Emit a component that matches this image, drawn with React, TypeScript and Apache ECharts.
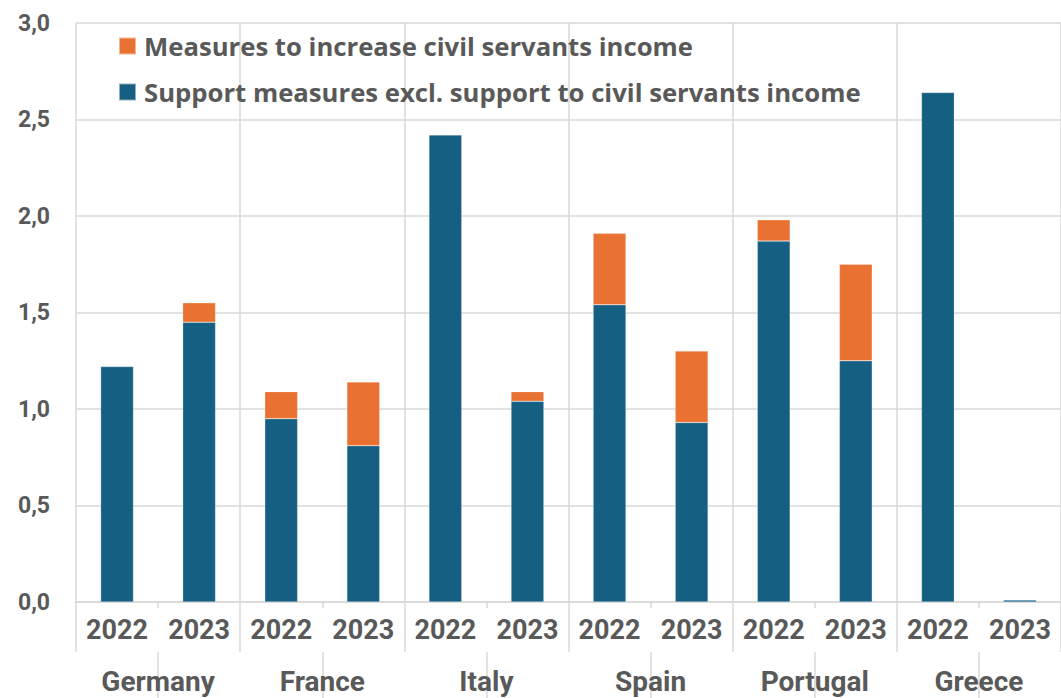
import React, { useEffect, useRef } from "react";
import * as echarts from "echarts";

const years = ["2022", "2023", "2022", "2023", "2022", "2023", "2022", "2023", "2022", "2023", "2022", "2023"];
const countries = ["Germany", "France", "Italy", "Spain", "Portugal", "Greece"];
const supportExcl = [1.22, 1.45, 0.95, 0.81, 2.42, 1.04, 1.54, 0.93, 1.87, 1.25, 2.64, 0.01];
const civilServants = [null, 0.1, 0.14, 0.33, null, 0.05, 0.37, 0.37, 0.11, 0.5, null, null];
const yTicks = [0, 0.5, 1, 1.5, 2, 2.5, 3];

const nameCivil = "Measures to increase civil servants income";
const nameSupport = "Support measures excl. support to civil servants income";

const FONT = "Roboto";
const LFONT = "Open Sans";
const TXT = "#595959";
const GRID = "#D9D9D9";

export default function App() {
  const ref = useRef<HTMLDivElement>(null);
  useEffect(() => {
    if (!ref.current) return;
    const chart = echarts.init(ref.current, undefined, { renderer: "svg" });
    chart.setOption({
      animation: false,
      backgroundColor: "#ffffff",
      textStyle: { fontFamily: FONT },
      grid: { left: 76, top: 23, width: 994, height: 579, containLabel: false },
      legend: {
        orient: "vertical",
        left: 118,
        top: 33,
        padding: 0,
        itemWidth: 17,
        itemHeight: 17,
        itemGap: 20,
        icon: "rect",
        data: [nameCivil, nameSupport],
        textStyle: { color: TXT, fontSize: 25.7, fontWeight: "bold", fontFamily: LFONT, lineHeight: 26, padding: [0, 0, 0, 3] },
      },
      xAxis: [
        {
          type: "category",
          data: years,
          position: "bottom",
          axisLine: { show: true, lineStyle: { color: GRID, width: 1.5 } },
          axisTick: { show: true, interval: (i: number) => i % 2 === 0, length: 50, lineStyle: { color: GRID, width: 1.5 } },
          axisLabel: { color: TXT, fontSize: 27, fontWeight: "bold", fontFamily: FONT, margin: 14, interval: 0 },
          splitLine: { show: true, interval: (i: number) => i % 2 === 0, lineStyle: { color: GRID, width: 1.5 } },
        },
        {
          type: "category",
          data: years,
          position: "bottom",
          axisLine: { show: false },
          axisTick: { show: true, interval: (i: number) => i % 2 === 1, length: 6, lineStyle: { color: GRID, width: 1.5 } },
          axisLabel: { show: false },
          splitLine: { show: false },
        },
        {
          type: "category",
          data: countries,
          position: "bottom",
          offset: 50,
          axisLine: { show: false },
          axisTick: { show: true, alignWithLabel: true, length: 48, lineStyle: { color: GRID, width: 1.5 } },
          axisLabel: { color: TXT, fontSize: 28, fontWeight: "bold", fontFamily: FONT, margin: 15, interval: 0 },
          splitLine: { show: false },
        },
      ],
      yAxis: {
        type: "value",
        min: yTicks[0],
        max: yTicks[yTicks.length - 1],
        interval: 0.5,
        axisLine: { show: false },
        axisTick: { show: false },
        axisLabel: {
          color: TXT,
          fontSize: 23,
          fontWeight: "bold",
          fontFamily: FONT,
          margin: 26,
          formatter: (v: number) => v.toFixed(1).replace(".", ","),
        },
        splitLine: { show: true, lineStyle: { color: GRID, width: 1.5 } },
      },
      series: [
        {
          name: nameSupport,
          type: "bar",
          stack: "total",
          xAxisIndex: 0,
          data: supportExcl,
          barWidth: "40%",
          itemStyle: { color: "#156082", borderColor: "rgba(255,255,255,0.5)", borderWidth: 0.5 },
        },
        {
          name: nameCivil,
          type: "bar",
          stack: "total",
          xAxisIndex: 0,
          data: civilServants,
          barWidth: "40%",
          itemStyle: { color: "#E97132", borderColor: "rgba(255,255,255,0.5)", borderWidth: 0.5 },
        },
      ],
    });
    return () => chart.dispose();
  }, []);
  return <div ref={ref} style={{ width: 1061, height: 698, position: "absolute", left: 0, top: 0 }} />;
}
